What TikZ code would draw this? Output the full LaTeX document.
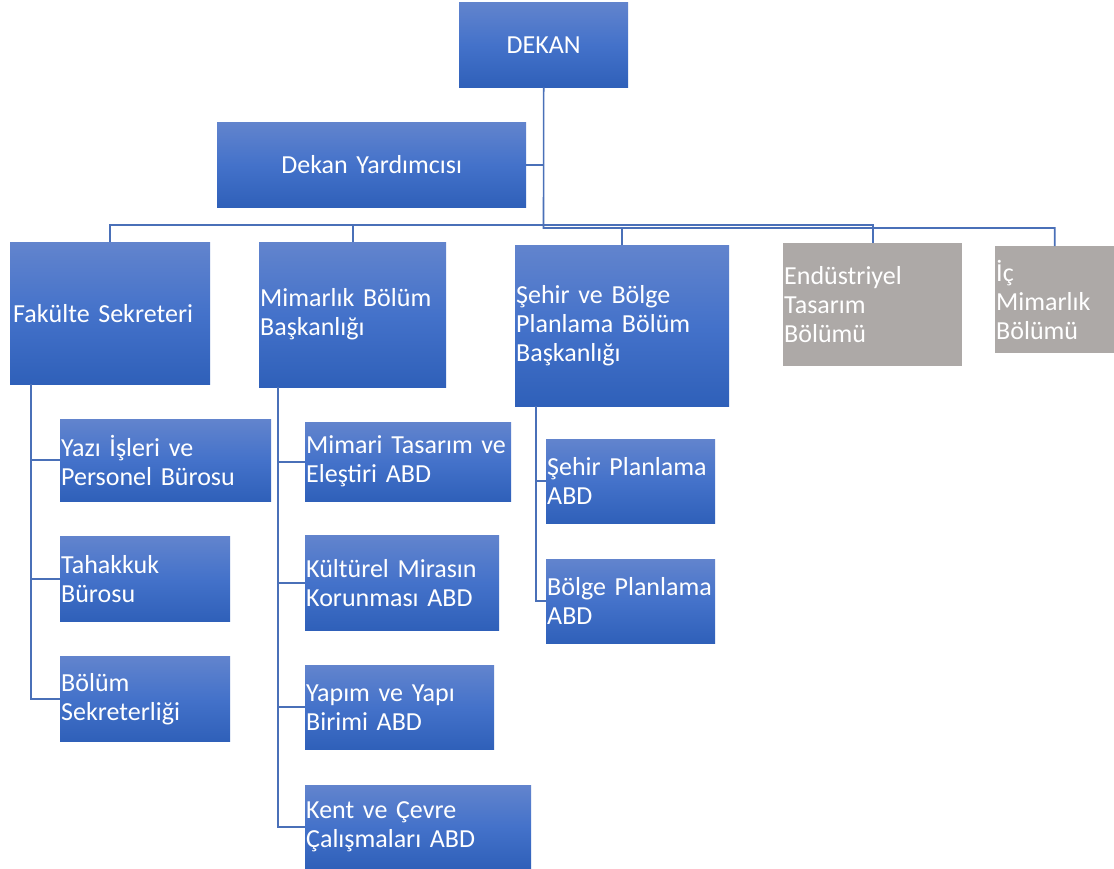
\documentclass[tikz,border=0pt]{standalone}
\usepackage{fontspec}
\setmainfont{Carlito}
\usepackage{tikz}
\usepackage{xcolor}
\definecolor{boxtop}{HTML}{6284CD}
\definecolor{boxmid}{HTML}{4472CA}
\definecolor{boxbot}{HTML}{2F60B9}
\definecolor{boxgrey}{HTML}{ADA9A7}
\definecolor{connblue}{HTML}{4A70B8}

\begin{document}
\begin{tikzpicture}[x=1pt, y=-1pt,
  every node/.style={font=\fontsize{26}{29}\selectfont, text=white},
  bluebox/.style={rectangle, anchor=north west, inner xsep=1pt, inner ysep=0pt,
    align=left, top color=boxtop, bottom color=boxbot, middle color=boxmid},
  greybox/.style={rectangle, anchor=north west, inner xsep=1pt, inner ysep=0pt,
    align=left, fill=boxgrey},
  conn/.style={draw=connblue, line width=1.6pt}]
  \fill[white] (0,0) rectangle (1114,868);
  \useasboundingbox (0,0) rectangle (1114,868);

  \node[bluebox, align=center, text width=167pt, minimum height=85pt] (dekan) at (459,2) {DEKAN};
  \node[bluebox, align=center, text width=307pt, minimum height=85pt] (yardimci) at (217,122) {Dekan Yardımcısı};

  \node[bluebox, text width=198pt, minimum height=142pt] (fakulte) at (10,242) {\hspace{2pt}Fakülte Sekreteri};
  \node[bluebox, text width=185pt, minimum height=145pt] (mimarlik) at (259,242) {Mimarlık Bölüm\\Başkanlığı};
  \node[bluebox, text width=212pt, minimum height=161pt] (sehir) at (515,245) {Şehir ve Bölge\\Planlama Bölüm\\Başkanlığı};
  \node[greybox, text width=177pt, minimum height=123pt] (endustri) at (783,243) {Endüstriyel\\Tasarım\\Bölümü};
  \node[greybox, text width=117pt, minimum height=107pt] (icmim) at (995,246) {İç\\Mimarlık\\Bölümü};

  \node[bluebox, text width=209pt, minimum height=82pt] (yazi) at (60,419) {Yazı İşleri ve\\Personel Bürosu};
  \node[bluebox, text width=168pt, minimum height=85pt] (tahakkuk) at (60,536) {Tahakkuk\\Bürosu};
  \node[bluebox, text width=168pt, minimum height=85pt] (bolsek) at (60,656) {Bölüm\\Sekreterliği};

  \node[bluebox, text width=204pt, minimum height=79pt] (mimtas) at (305,422) {Mimari Tasarım ve\\Eleştiri ABD};
  \node[bluebox, text width=192pt, minimum height=95pt] (kultur) at (305,535) {Kültürel Mirasın\\Korunması ABD};
  \node[bluebox, text width=187pt, minimum height=84pt] (yapim) at (305,665) {Yapım ve Yapı\\Birimi ABD};
  \node[bluebox, text width=224pt, minimum height=83pt] (kent) at (305,785) {Kent ve Çevre\\Çalışmaları ABD};

  \node[bluebox, text width=167pt, minimum height=84pt] (sehirpl) at (546,439) {Şehir Planlama\\ABD};
  \node[bluebox, text width=167pt, minimum height=84pt] (bolgepl) at (546,559) {Bölge Planlama\\ABD};

  \coordinate (busA) at (110,225);
  \coordinate (busB) at (543.5,228);
  \draw[conn] (dekan.south) -- (busB) -| (icmim.north);
  \draw[conn] (yardimci.east) -- (yardimci.east -| dekan.south);
  \draw[conn] (fakulte.north) -- (fakulte.north |- busA) -| (endustri.north);
  \draw[conn] (mimarlik.north) -- (mimarlik.north |- busA);
  \draw[conn] (sehir.north) -- (sehir.north |- busB);

  \coordinate (fk) at ([xshift=21pt]fakulte.south west);
  \draw[conn] (fk) |- (bolsek.west);
  \foreach \c in {yazi,tahakkuk}
    \draw[conn] (fk |- \c.west) -- (\c.west);

  \coordinate (mb) at ([xshift=19pt]mimarlik.south west);
  \draw[conn] (mb) |- (kent.west);
  \foreach \c in {mimtas,kultur,yapim}
    \draw[conn] (mb |- \c.west) -- (\c.west);

  \coordinate (sb) at ([xshift=21pt]sehir.south west);
  \draw[conn] (sb) |- (bolgepl.west);
  \draw[conn] (sb |- sehirpl.west) -- (sehirpl.west);
\end{tikzpicture}
\end{document}
